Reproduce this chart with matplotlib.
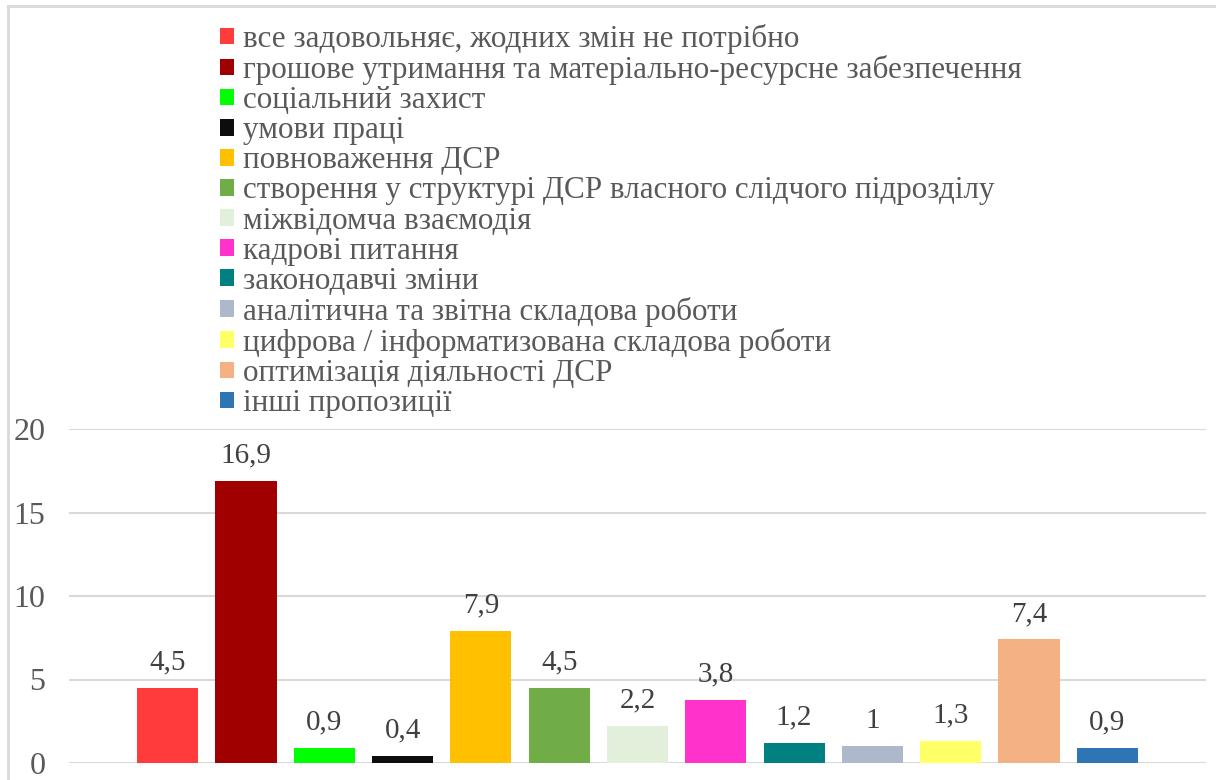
import matplotlib
matplotlib.use("Agg")
from matplotlib import pyplot as plt
from matplotlib.lines import Line2D
from matplotlib.patches import Patch

categories = [
    "все задовольняє, жодних змін не потрібно",
    "грошове утримання та матеріально-ресурсне забезпечення",
    "соціальний захист",
    "умови праці",
    "повноваження ДСР",
    "створення у структурі ДСР власного слідчого підрозділу",
    "міжвідомча взаємодія",
    "кадрові питання",
    "законодавчі зміни",
    "аналітична та звітна складова роботи",
    "цифрова / інформатизована складова роботи",
    "оптимізація діяльності ДСР",
    "інші пропозиції",
]
values = [4.5, 16.9, 0.9, 0.4, 7.9, 4.5, 2.2, 3.8, 1.2, 1.0, 1.3, 7.4, 0.9]
value_labels = ["4,5", "16,9", "0,9", "0,4", "7,9", "4,5", "2,2", "3,8", "1,2", "1", "1,3", "7,4", "0,9"]
colors = ["#FF3B3B", "#A00000", "#00FF00", "#0D0D0D", "#FFC000", "#70AD47", "#E2EFDA",
          "#FF33CC", "#008080", "#ADB9CA", "#FFFF66", "#F4B183", "#2E75B6"]
yticks = [0, 5, 10, 15, 20]

plt.rcParams['font.family'] = ['Liberation Serif', 'DejaVu Serif']

fig = plt.figure(figsize=(12.16, 7.8), dpi=100)
ax = fig.add_axes([69 / 1216, 1 - 763 / 780, (1206 - 69) / 1216, (763 - 429) / 780])

x = list(range(len(values)))
ax.bar(x, values, width=0.78, color=colors, zorder=3)
for xi, v, lab in zip(x, values, value_labels):
    ax.text(xi, v + 0.75, lab, ha="center", va="bottom", fontsize=21, color="#404040")

ax.set_xlim(-1.26, len(values) - 1 + 1.26)
ax.set_ylim(0, 20)
ax.set_yticks(yticks)
ax.set_xticks([])
ax.tick_params(axis="y", length=0, labelsize=23, labelcolor="#595959", pad=17)
ax.grid(axis="y", color="#D9D9D9", linewidth=1.5, zorder=0)
for s in ax.spines.values():
    s.set_visible(False)

handles = [Patch(facecolor=c, edgecolor="none") for c in colors]
fig.legend(handles, categories, loc="upper left", bbox_to_anchor=(220 / 1216, 1 - 24 / 780),
           frameon=False, fontsize=22.4, handlelength=0.45, handleheight=0.45, handletextpad=0.3,
           labelspacing=0.035, labelcolor="#595959", borderpad=0, borderaxespad=0)

# chart border (left and top only visible)
fig.add_artist(Line2D([8 / 1216, 8 / 1216], [0, 1 - 6 / 780], transform=fig.transFigure,
                      color="#D9D9D9", linewidth=2))
fig.add_artist(Line2D([8 / 1216, 1], [1 - 6 / 780, 1 - 6 / 780], transform=fig.transFigure,
                      color="#D9D9D9", linewidth=2))

fig.savefig("out.png", dpi=100)
